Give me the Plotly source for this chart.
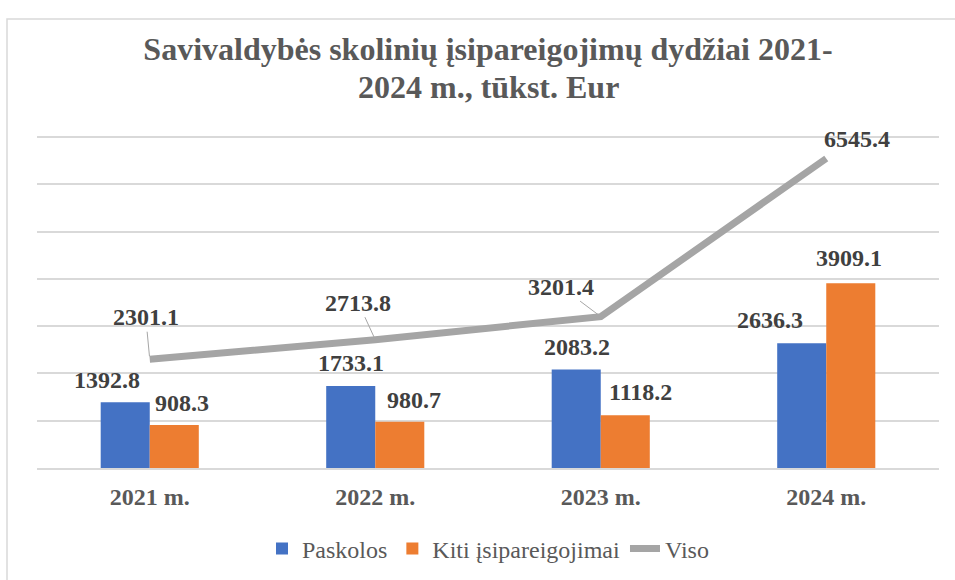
import plotly.graph_objects as go

# ---- data ----
categories = ["2021 m.", "2022 m.", "2023 m.", "2024 m."]
paskolos = [1392.8, 1733.1, 2083.2, 2636.3]
kiti = [908.3, 980.7, 1118.2, 3909.1]
viso = [2301.1, 2713.8, 3201.4, 6545.4]
series_names = ["Paskolos", "Kiti įsipareigojimai", "Viso"]
title_line1 = "Savivaldybės skolinių įsipareigojimų dydžiai 2021-"
title_line2 = "2024 m., tūkst. Eur"

# ---- label placement offsets (pixels) ----
pask_shift = [(-43, 22), (-24, 23), (-24, 22), (-56, 23)]
kiti_shift = [(32, 22), (39, 22), (40, 23), (23, 25)]
viso_offset = [(-4, -42), (-17, -37), (-40, -30), None]
viso_last_shift = (31, 20)

FONT = "Liberation Serif, Times New Roman, DejaVu Serif, serif"
BLUE = "#4472C4"
ORANGE = "#ED7D31"
GRAY = "#A5A5A5"
LABEL_COLOR = "#404040"
TEXT_COLOR = "#595959"

fig = go.Figure()
fig.add_trace(go.Bar(x=categories, y=paskolos, name=series_names[0],
                     marker=dict(color=BLUE, line=dict(width=0))))
fig.add_trace(go.Bar(x=categories, y=kiti, name=series_names[1],
                     marker=dict(color=ORANGE, line=dict(width=0))))
fig.add_trace(go.Scatter(x=categories, y=viso, name=series_names[2], mode="lines",
                         line=dict(color=GRAY, width=7)))

annotations = []
lab_font = dict(family=FONT, size=24, color=LABEL_COLOR)
for c, v, (dx, dy) in zip(categories, paskolos, pask_shift):
    annotations.append(dict(x=c, y=v, text=f"<b>{v:.1f}</b>", showarrow=False,
                            xshift=dx, yshift=dy, font=lab_font))
for c, v, (dx, dy) in zip(categories, kiti, kiti_shift):
    annotations.append(dict(x=c, y=v, text=f"<b>{v:.1f}</b>", showarrow=False,
                            xshift=dx, yshift=dy, font=lab_font))
for c, v, off in zip(categories, viso, viso_offset):
    if off is None:
        annotations.append(dict(x=c, y=v, text=f"<b>{v:.1f}</b>", showarrow=False,
                                xshift=viso_last_shift[0], yshift=viso_last_shift[1],
                                font=lab_font))
    else:
        annotations.append(dict(x=c, y=v, text=f"<b>{v:.1f}</b>", showarrow=True,
                                ax=off[0], ay=off[1], arrowhead=0, arrowwidth=1,
                                arrowcolor="#A6A6A6", standoff=3, font=lab_font))

# second title line
annotations.append(dict(xref="paper", yref="paper", x=0.5, y=(468 - 87) / 331,
                        yanchor="middle", text=f"<b>{title_line2}</b>", showarrow=False,
                        font=dict(family=FONT, size=32, color=TEXT_COLOR)))

fig.update_layout(
    width=955, height=580,
    font=dict(family=FONT, color=TEXT_COLOR),
    margin=dict(l=37, r=16, t=137, b=112, autoexpand=False),
    paper_bgcolor="white", plot_bgcolor="white",
    title=dict(text=f"<b>{title_line1}</b>", x=0.5, xref="paper", xanchor="center",
               yref="container", y=1 - 49 / 580, yanchor="middle",
               font=dict(family=FONT, size=32, color=TEXT_COLOR)),
    barmode="group", bargap=0.565, bargroupgap=0,
    showlegend=True,
    legend=dict(orientation="h", x=0.5, xanchor="center", y=(468 - 549) / 331,
                yanchor="middle",
                font=dict(family=FONT, size=24, color=TEXT_COLOR, weight="normal"),
                traceorder="normal", bgcolor="rgba(0,0,0,0)"),
    xaxis=dict(showgrid=False, showline=True, linecolor="#D9D9D9", linewidth=2,
               ticks="", ticklabelstandoff=6, automargin=False,
               tickfont=dict(family=FONT, size=24, color=TEXT_COLOR)),
    yaxis=dict(range=[0, 7000], dtick=1000, showticklabels=False, showgrid=True,
               gridcolor="#D9D9D9", gridwidth=2, zeroline=False, showline=False,
               automargin=False),
    annotations=annotations,
    shapes=[dict(type="rect", xref="paper", yref="paper",
                 x0=(7 - 37) / 902, x1=(960 - 37) / 902,
                 y0=(468 - 590) / 331, y1=(468 - 19) / 331,
                 line=dict(color="#D9D9D9", width=1.5), fillcolor="rgba(0,0,0,0)",
                 layer="below"),
            dict(type="line", xref="paper", yref="paper", x0=0, x1=1, y0=1, y1=1,
                 line=dict(color="#D9D9D9", width=2), layer="below")],
)
fig.update_xaxes(tickprefix="<b>", ticksuffix="</b>")

fig.write_html("out.html", config={"displayModeBar": False},
               post_script="document.body.style.margin='0';document.body.style.overflow='hidden';")
